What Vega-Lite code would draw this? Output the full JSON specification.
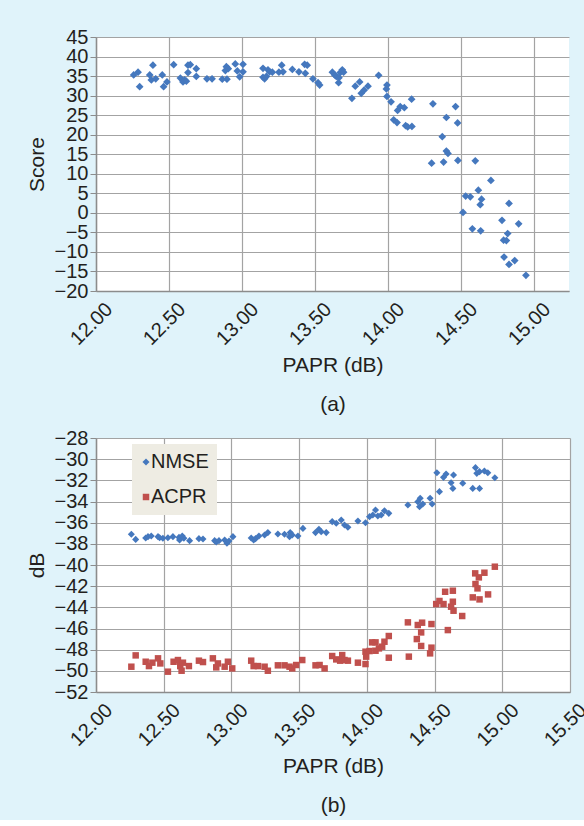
{
  "$schema": "https://vega.github.io/schema/vega-lite/v6.json",
  "background": "#e0f3fa",
  "padding": {"left": 26, "top": 27, "right": 5, "bottom": 5},
  "config": {
    "font": "Liberation Sans",
    "view": {"fill": "white", "stroke": null},
    "axis": {
      "labelFont": "Liberation Sans",
      "labelFontSize": 20,
      "labelColor": "#231f20",
      "titleFont": "Liberation Sans",
      "titleFontSize": 21,
      "titleFontWeight": "normal",
      "titleColor": "#231f20",
      "domainColor": "#8c8c8c",
      "domainWidth": 1.5,
      "gridColor": "#a3a3a3",
      "gridWidth": 1.2,
      "tickColor": "#8c8c8c",
      "labelOverlap": false,
      "labelFlush": false,
      "labelBound": false
    },
    "axisX": {
      "ticks": false,
      "labelAngle": -45,
      "labelAlign": "right",
      "labelBaseline": "middle",
      "labelOffset": 13,
      "labelPadding": 15,
      "format": ".2f",
      "titleY": 63,
      "titleBaseline": "top",
      "titleLineHeight": 39
    },
    "axisY": {
      "ticks": true,
      "tickSize": 6,
      "labelPadding": 2,
      "titleX": -49,
      "titleY": 127,
      "titleBaseline": "bottom",
      "titleAngle": -90
    }
  },
  "spacing": 147,
  "bounds": "flush",
  "resolve": {"legend": {"color": "independent", "shape": "independent", "size": "independent"}},
  "datasets": {
    "score": [
      {"papr":12.258,"score":35.3},{"papr":12.288,"score":36.0},{"papr":12.299,"score":32.3},{"papr":12.368,"score":35.3},
      {"papr":12.379,"score":34.0},{"papr":12.390,"score":37.8},{"papr":12.409,"score":34.3},{"papr":12.454,"score":35.3},
      {"papr":12.463,"score":32.3},{"papr":12.486,"score":33.5},{"papr":12.532,"score":37.9},{"papr":12.578,"score":34.5},
      {"papr":12.596,"score":33.5},{"papr":12.607,"score":34.0},{"papr":12.619,"score":33.7},{"papr":12.630,"score":35.9},
      {"papr":12.630,"score":37.8},{"papr":12.646,"score":37.9},{"papr":12.687,"score":36.9},{"papr":12.687,"score":34.9},
      {"papr":12.760,"score":34.3},{"papr":12.795,"score":34.3},{"papr":12.865,"score":34.2},{"papr":12.886,"score":36.4},
      {"papr":12.897,"score":34.2},{"papr":12.893,"score":37.4},{"papr":12.906,"score":36.9},{"papr":12.954,"score":38.1},
      {"papr":12.968,"score":36.3},{"papr":12.984,"score":34.8},{"papr":13.007,"score":38.0},{"papr":13.007,"score":36.1},
      {"papr":13.144,"score":37.0},{"papr":13.144,"score":34.7},{"papr":13.155,"score":34.3},{"papr":13.167,"score":34.9},
      {"papr":13.178,"score":36.6},{"papr":13.189,"score":36.1},{"papr":13.208,"score":36.0},{"papr":13.253,"score":36.0},
      {"papr":13.272,"score":37.8},{"papr":13.281,"score":36.1},{"papr":13.345,"score":36.7},{"papr":13.390,"score":36.1},
      {"papr":13.429,"score":38.0},{"papr":13.447,"score":37.8},{"papr":13.434,"score":35.7},{"papr":13.486,"score":34.3},
      {"papr":13.521,"score":33.3},{"papr":13.532,"score":32.7},{"papr":13.619,"score":36.0},{"papr":13.635,"score":35.3},
      {"papr":13.646,"score":34.9},{"papr":13.664,"score":34.6},{"papr":13.662,"score":33.3},{"papr":13.673,"score":35.9},
      {"papr":13.687,"score":36.6},{"papr":13.696,"score":36.0},{"papr":13.753,"score":29.3},{"papr":13.776,"score":32.4},
      {"papr":13.806,"score":33.5},{"papr":13.817,"score":30.6},{"papr":13.836,"score":31.4},{"papr":13.863,"score":32.4},
      {"papr":13.936,"score":35.2},{"papr":13.993,"score":32.7},{"papr":13.989,"score":31.7},{"papr":13.993,"score":29.8},
      {"papr":14.021,"score":28.4},{"papr":14.039,"score":23.8},{"papr":14.062,"score":23.1},{"papr":14.066,"score":26.2},
      {"papr":14.084,"score":27.2},{"papr":14.112,"score":26.9},{"papr":14.121,"score":22.3},{"papr":14.135,"score":22.0},
      {"papr":14.164,"score":22.1},{"papr":14.162,"score":29.1},{"papr":14.308,"score":27.9},{"papr":14.372,"score":19.5},
      {"papr":14.400,"score":24.4},{"papr":14.400,"score":15.8},{"papr":14.411,"score":15.2},{"papr":14.463,"score":27.2},
      {"papr":14.477,"score":23.0},{"papr":14.299,"score":12.7},{"papr":14.381,"score":13.0},{"papr":14.479,"score":13.4},
      {"papr":14.598,"score":13.3},{"papr":14.705,"score":8.3},{"papr":14.532,"score":4.3},{"papr":14.564,"score":4.1},
      {"papr":14.619,"score":5.8},{"papr":14.641,"score":3.5},{"papr":14.632,"score":2.1},{"papr":14.514,"score":0.1},
      {"papr":14.578,"score":-4.1},{"papr":14.635,"score":-4.6},{"papr":14.829,"score":2.4},{"papr":14.781,"score":-1.9},
      {"papr":14.895,"score":-2.8},{"papr":14.820,"score":-5.3},{"papr":14.792,"score":-7.0},{"papr":14.811,"score":-7.1},
      {"papr":14.795,"score":-11.3},{"papr":14.829,"score":-13.2},{"papr":14.868,"score":-12.2},{"papr":14.945,"score":-16.0}
    ],
    "perf": [
      {"papr":12.261,"db":-37.10,"series":"NMSE"},{"papr":12.293,"db":-37.58,"series":"NMSE"},{"papr":12.367,"db":-37.45,"series":"NMSE"},
      {"papr":12.384,"db":-37.32,"series":"NMSE"},{"papr":12.408,"db":-37.26,"series":"NMSE"},{"papr":12.458,"db":-37.32,"series":"NMSE"},
      {"papr":12.470,"db":-37.42,"series":"NMSE"},{"papr":12.494,"db":-37.48,"series":"NMSE"},{"papr":12.531,"db":-37.42,"series":"NMSE"},
      {"papr":12.568,"db":-37.32,"series":"NMSE"},{"papr":12.613,"db":-37.39,"series":"NMSE"},{"papr":12.617,"db":-37.64,"series":"NMSE"},
      {"papr":12.637,"db":-37.26,"series":"NMSE"},{"papr":12.649,"db":-37.48,"series":"NMSE"},{"papr":12.691,"db":-37.70,"series":"NMSE"},
      {"papr":12.760,"db":-37.51,"series":"NMSE"},{"papr":12.790,"db":-37.54,"series":"NMSE"},{"papr":12.876,"db":-37.70,"series":"NMSE"},
      {"papr":12.888,"db":-37.83,"series":"NMSE"},{"papr":12.908,"db":-37.70,"series":"NMSE"},{"papr":12.950,"db":-37.64,"series":"NMSE"},
      {"papr":12.967,"db":-37.95,"series":"NMSE"},{"papr":12.982,"db":-37.73,"series":"NMSE"},{"papr":13.011,"db":-37.32,"series":"NMSE"},
      {"papr":13.146,"db":-37.45,"series":"NMSE"},{"papr":13.164,"db":-37.64,"series":"NMSE"},{"papr":13.178,"db":-37.51,"series":"NMSE"},
      {"papr":13.203,"db":-37.26,"series":"NMSE"},{"papr":13.245,"db":-37.16,"series":"NMSE"},{"papr":13.269,"db":-36.94,"series":"NMSE"},
      {"papr":13.343,"db":-37.07,"series":"NMSE"},{"papr":13.392,"db":-37.10,"series":"NMSE"},{"papr":13.429,"db":-37.32,"series":"NMSE"},
      {"papr":13.434,"db":-36.94,"series":"NMSE"},{"papr":13.449,"db":-37.16,"series":"NMSE"},{"papr":13.491,"db":-37.26,"series":"NMSE"},
      {"papr":13.528,"db":-36.54,"series":"NMSE"},{"papr":13.621,"db":-36.94,"series":"NMSE"},{"papr":13.646,"db":-36.63,"series":"NMSE"},
      {"papr":13.663,"db":-36.85,"series":"NMSE"},{"papr":13.700,"db":-36.94,"series":"NMSE"},{"papr":13.744,"db":-35.90,"series":"NMSE"},
      {"papr":13.774,"db":-36.06,"series":"NMSE"},{"papr":13.811,"db":-35.75,"series":"NMSE"},{"papr":13.835,"db":-36.22,"series":"NMSE"},
      {"papr":13.860,"db":-36.44,"series":"NMSE"},{"papr":13.934,"db":-35.84,"series":"NMSE"},{"papr":13.990,"db":-36.00,"series":"NMSE"},
      {"papr":14.020,"db":-35.43,"series":"NMSE"},{"papr":14.044,"db":-35.28,"series":"NMSE"},{"papr":14.064,"db":-34.80,"series":"NMSE"},
      {"papr":14.081,"db":-35.37,"series":"NMSE"},{"papr":14.106,"db":-35.28,"series":"NMSE"},{"papr":14.130,"db":-34.87,"series":"NMSE"},
      {"papr":14.162,"db":-35.12,"series":"NMSE"},{"papr":14.303,"db":-34.33,"series":"NMSE"},{"papr":14.376,"db":-34.02,"series":"NMSE"},
      {"papr":14.394,"db":-33.70,"series":"NMSE"},{"papr":14.389,"db":-34.49,"series":"NMSE"},{"papr":14.413,"db":-34.24,"series":"NMSE"},
      {"papr":14.467,"db":-33.70,"series":"NMSE"},{"papr":14.482,"db":-34.24,"series":"NMSE"},{"papr":14.517,"db":-31.28,"series":"NMSE"},
      {"papr":14.536,"db":-33.07,"series":"NMSE"},{"papr":14.566,"db":-31.72,"series":"NMSE"},{"papr":14.585,"db":-31.40,"series":"NMSE"},
      {"papr":14.640,"db":-31.50,"series":"NMSE"},{"papr":14.622,"db":-32.22,"series":"NMSE"},{"papr":14.635,"db":-32.76,"series":"NMSE"},
      {"papr":14.708,"db":-32.28,"series":"NMSE"},{"papr":14.782,"db":-32.76,"series":"NMSE"},{"papr":14.832,"db":-32.76,"series":"NMSE"},
      {"papr":14.802,"db":-30.80,"series":"NMSE"},{"papr":14.812,"db":-31.34,"series":"NMSE"},{"papr":14.832,"db":-31.18,"series":"NMSE"},
      {"papr":14.868,"db":-31.12,"series":"NMSE"},{"papr":14.893,"db":-31.28,"series":"NMSE"},{"papr":14.945,"db":-31.75,"series":"NMSE"},
      {"papr":12.261,"db":-49.61,"series":"ACPR"},{"papr":12.293,"db":-48.54,"series":"ACPR"},{"papr":12.367,"db":-49.14,"series":"ACPR"},
      {"papr":12.391,"db":-49.55,"series":"ACPR"},{"papr":12.416,"db":-49.23,"series":"ACPR"},{"papr":12.458,"db":-48.82,"series":"ACPR"},
      {"papr":12.475,"db":-49.30,"series":"ACPR"},{"papr":12.531,"db":-50.08,"series":"ACPR"},{"papr":12.573,"db":-49.14,"series":"ACPR"},
      {"papr":12.605,"db":-48.98,"series":"ACPR"},{"papr":12.622,"db":-49.55,"series":"ACPR"},{"papr":12.632,"db":-49.99,"series":"ACPR"},
      {"papr":12.642,"db":-49.23,"series":"ACPR"},{"papr":12.686,"db":-49.55,"series":"ACPR"},{"papr":12.760,"db":-49.04,"series":"ACPR"},
      {"papr":12.790,"db":-49.17,"series":"ACPR"},{"papr":12.863,"db":-48.82,"series":"ACPR"},{"papr":12.888,"db":-49.67,"series":"ACPR"},
      {"papr":12.900,"db":-49.30,"series":"ACPR"},{"papr":12.950,"db":-49.61,"series":"ACPR"},{"papr":12.974,"db":-49.14,"series":"ACPR"},
      {"papr":13.006,"db":-49.77,"series":"ACPR"},{"papr":13.146,"db":-49.04,"series":"ACPR"},{"papr":13.164,"db":-49.55,"series":"ACPR"},
      {"papr":13.196,"db":-49.55,"series":"ACPR"},{"papr":13.245,"db":-49.61,"series":"ACPR"},{"papr":13.269,"db":-49.99,"series":"ACPR"},
      {"papr":13.343,"db":-49.48,"series":"ACPR"},{"papr":13.392,"db":-49.48,"series":"ACPR"},{"papr":13.429,"db":-49.61,"series":"ACPR"},
      {"papr":13.449,"db":-49.77,"series":"ACPR"},{"papr":13.478,"db":-49.45,"series":"ACPR"},{"papr":13.523,"db":-48.98,"series":"ACPR"},
      {"papr":13.621,"db":-49.48,"series":"ACPR"},{"papr":13.651,"db":-49.45,"series":"ACPR"},{"papr":13.688,"db":-49.77,"series":"ACPR"},
      {"papr":13.744,"db":-48.60,"series":"ACPR"},{"papr":13.774,"db":-48.92,"series":"ACPR"},{"papr":13.803,"db":-49.04,"series":"ACPR"},
      {"papr":13.818,"db":-48.51,"series":"ACPR"},{"papr":13.835,"db":-48.98,"series":"ACPR"},{"papr":13.860,"db":-49.04,"series":"ACPR"},
      {"papr":13.934,"db":-49.23,"series":"ACPR"},{"papr":13.990,"db":-49.36,"series":"ACPR"},{"papr":13.990,"db":-48.19,"series":"ACPR"},
      {"papr":13.995,"db":-48.66,"series":"ACPR"},{"papr":14.020,"db":-48.13,"series":"ACPR"},{"papr":14.039,"db":-47.31,"series":"ACPR"},
      {"papr":14.064,"db":-48.10,"series":"ACPR"},{"papr":14.064,"db":-47.31,"series":"ACPR"},{"papr":14.089,"db":-47.88,"series":"ACPR"},
      {"papr":14.113,"db":-47.72,"series":"ACPR"},{"papr":14.130,"db":-47.25,"series":"ACPR"},{"papr":14.162,"db":-46.71,"series":"ACPR"},
      {"papr":14.162,"db":-48.76,"series":"ACPR"},{"papr":14.303,"db":-45.42,"series":"ACPR"},{"papr":14.310,"db":-48.66,"series":"ACPR"},
      {"papr":14.369,"db":-47.00,"series":"ACPR"},{"papr":14.376,"db":-45.67,"series":"ACPR"},{"papr":14.401,"db":-46.37,"series":"ACPR"},
      {"papr":14.408,"db":-45.45,"series":"ACPR"},{"papr":14.401,"db":-47.65,"series":"ACPR"},{"papr":14.467,"db":-48.35,"series":"ACPR"},
      {"papr":14.477,"db":-45.58,"series":"ACPR"},{"papr":14.477,"db":-47.81,"series":"ACPR"},{"papr":14.512,"db":-43.69,"series":"ACPR"},
      {"papr":14.536,"db":-43.40,"series":"ACPR"},{"papr":14.566,"db":-43.69,"series":"ACPR"},{"papr":14.578,"db":-42.53,"series":"ACPR"},
      {"papr":14.598,"db":-46.15,"series":"ACPR"},{"papr":14.635,"db":-42.43,"series":"ACPR"},{"papr":14.622,"db":-43.94,"series":"ACPR"},
      {"papr":14.635,"db":-43.47,"series":"ACPR"},{"papr":14.640,"db":-44.32,"series":"ACPR"},{"papr":14.704,"db":-44.82,"series":"ACPR"},
      {"papr":14.782,"db":-43.06,"series":"ACPR"},{"papr":14.800,"db":-40.79,"series":"ACPR"},{"papr":14.827,"db":-41.17,"series":"ACPR"},
      {"papr":14.802,"db":-41.80,"series":"ACPR"},{"papr":14.817,"db":-42.21,"series":"ACPR"},{"papr":14.832,"db":-43.25,"series":"ACPR"},
      {"papr":14.868,"db":-40.73,"series":"ACPR"},{"papr":14.895,"db":-42.78,"series":"ACPR"},{"papr":14.945,"db":-40.16,"series":"ACPR"}
    ]
  },
  "vconcat": [
    {
      "width": 473,
      "height": 254,
      "data": {"name": "score"},
      "mark": {"type": "point", "shape": "diamond", "filled": true, "size": 60, "color": "#4578be", "opacity": 1},
      "encoding": {
        "x": {
          "field": "papr", "type": "quantitative",
          "scale": {"domain": [12, 15.24], "nice": false, "zero": false},
          "axis": {"values": [12, 12.5, 13, 13.5, 14, 14.5, 15], "title": ["PAPR (dB)", "(a)"]}
        },
        "y": {
          "field": "score", "type": "quantitative",
          "scale": {"domain": [-20, 45], "nice": false, "zero": false},
          "axis": {"values": [-20, -15, -10, -5, 0, 5, 10, 15, 20, 25, 30, 35, 40, 45], "title": "Score"}
        }
      }
    },
    {
      "width": 474,
      "height": 254,
      "data": {"name": "perf"},
      "mark": {"type": "point", "filled": true, "opacity": 1},
      "encoding": {
        "x": {
          "field": "papr", "type": "quantitative",
          "scale": {"domain": [12, 15.5], "nice": false, "zero": false},
          "axis": {"values": [12, 12.5, 13, 13.5, 14, 14.5, 15, 15.5], "title": ["PAPR (dB)", "(b)"]}
        },
        "y": {
          "field": "db", "type": "quantitative",
          "scale": {"domain": [-52, -28], "nice": false, "zero": false},
          "axis": {"values": [-52, -50, -48, -46, -44, -42, -40, -38, -36, -34, -32, -30, -28], "title": "dB"}
        },
        "color": {
          "field": "series", "type": "nominal",
          "scale": {"domain": ["NMSE", "ACPR"], "range": ["#4578be", "#c0504d"]},
          "legend": {
            "title": null, "orient": "none", "legendX": 36, "legendY": 6,
            "fillColor": "#eeece3", "padding": 8, "labelFontSize": 20, "labelFont": "Liberation Sans",
            "labelColor": "#231f20", "symbolSize": 30, "rowPadding": 15, "labelOffset": -5, "symbolOffset": -4
          }
        },
        "shape": {
          "field": "series", "type": "nominal",
          "scale": {"domain": ["NMSE", "ACPR"], "range": ["diamond", "square"]},
          "legend": {
            "title": null, "orient": "none", "legendX": 36, "legendY": 6,
            "fillColor": "#eeece3", "padding": 8, "labelFontSize": 20, "labelFont": "Liberation Sans",
            "labelColor": "#231f20", "symbolSize": 30, "rowPadding": 15, "labelOffset": -5, "symbolOffset": -4
          }
        },
        "size": {
          "field": "series", "type": "nominal",
          "scale": {"domain": ["NMSE", "ACPR"], "range": [50, 42]},
          "legend": null
        }
      }
    }
  ]
}
